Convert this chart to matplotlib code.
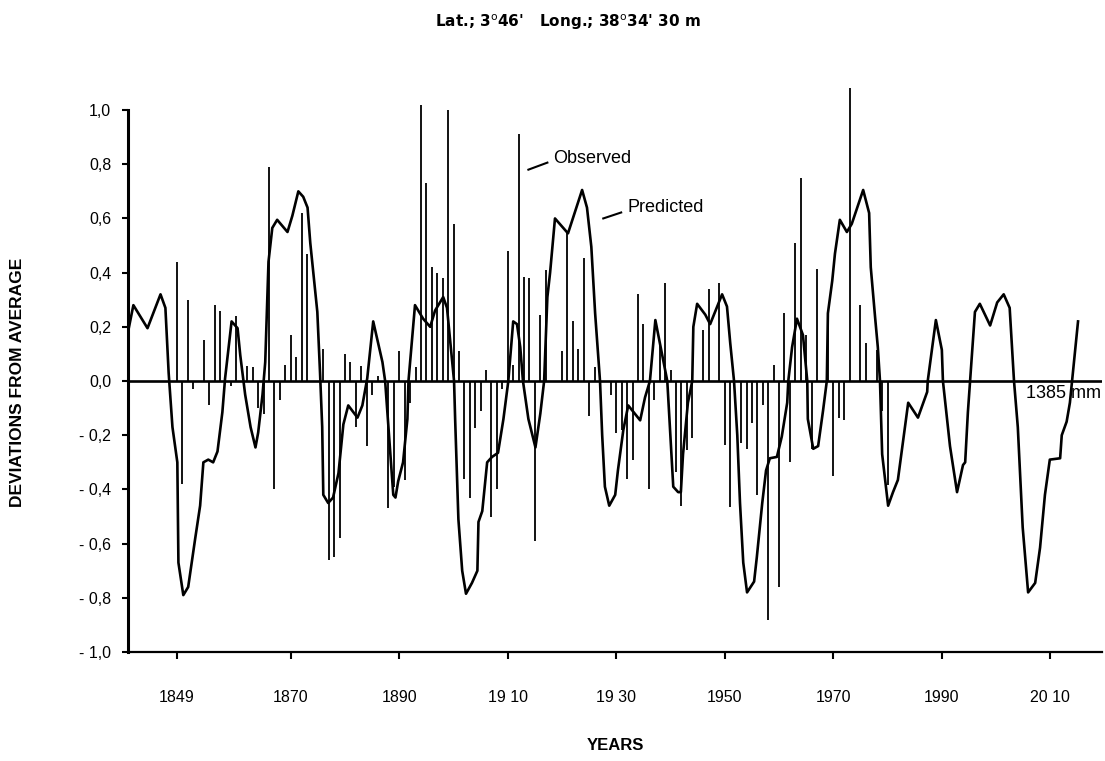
import numpy as np
import matplotlib
matplotlib.use("Agg")
import matplotlib.pyplot as plt

plt.rcParams['font.family'] = ['Liberation Sans Narrow', 'Liberation Sans', 'DejaVu Sans']

# predicted curve (year, deviation)
pred_year = [1840.1, 1841.0, 1843.6, 1846.0, 1846.9, 1847.5, 1848.2, 1849.1, 1849.3, 1850.2,
             1851.1, 1852.4, 1853.3, 1853.9, 1854.8, 1855.7, 1856.5, 1857.4, 1857.9, 1859.1,
             1860.2, 1860.7, 1861.6, 1862.6, 1863.5, 1864.0, 1864.8, 1865.3, 1865.9, 1866.6,
             1867.5, 1869.4, 1870.3, 1871.4, 1872.3, 1873.1, 1873.6, 1874.9, 1875.4, 1875.8,
             1876.0, 1876.9, 1877.8, 1878.8, 1879.7, 1880.6, 1882.3, 1883.2, 1884.1, 1885.2,
             1886.9, 1887.4, 1888.9, 1889.3, 1889.8, 1890.7, 1891.5, 1891.7, 1892.9, 1894.4,
             1895.7, 1896.6, 1898.1, 1898.8, 1900.1, 1900.3, 1900.9, 1901.6, 1902.3, 1903.4,
             1904.4, 1904.6, 1905.3, 1906.2, 1907.1, 1908.2, 1909.2, 1910.1, 1911.0, 1911.7,
             1912.3, 1912.8, 1913.8, 1915.1, 1916.0, 1916.7, 1917.3, 1917.8, 1918.7, 1921.1,
             1923.7, 1924.6, 1925.4, 1926.1, 1927.0, 1927.4, 1927.9, 1928.7, 1929.8, 1930.3,
             1931.3, 1932.2, 1934.4, 1935.3, 1936.2, 1937.2, 1939.4, 1940.5, 1941.4, 1941.9,
             1942.3, 1943.2, 1944.0, 1944.2, 1944.9, 1946.4, 1947.3, 1947.8, 1949.5, 1950.4,
             1951.0, 1951.7, 1952.3, 1952.8, 1953.4, 1954.1, 1955.4, 1955.9, 1956.9, 1957.6,
             1958.3, 1959.6, 1960.5, 1961.5, 1961.7, 1962.4, 1963.3, 1964.4, 1965.2, 1965.3,
             1966.3, 1967.2, 1968.1, 1968.8, 1969.0, 1969.8, 1970.3, 1971.2, 1972.5, 1973.4,
             1975.5, 1976.6, 1976.9, 1977.7, 1978.2, 1978.6, 1979.0, 1980.1, 1981.0, 1981.9,
             1982.8, 1983.8, 1985.6, 1987.3, 1987.4, 1988.9, 1990.0, 1990.2, 1991.5, 1992.8,
             1993.9, 1994.3, 1994.8, 1995.2, 1996.1, 1997.0, 1998.9, 2000.2, 2001.4, 2002.5,
             2003.3, 2004.0, 2004.9, 2005.9, 2007.2, 2008.1, 2009.0, 2009.9, 2011.8, 2012.1,
             2013.0, 2013.6, 2014.0, 2015.1]
pred_val = [0.19, 0.28, 0.195, 0.32, 0.27, 0.03, -0.17, -0.30, -0.67, -0.79,
            -0.76, -0.58, -0.46, -0.30, -0.29, -0.30, -0.26, -0.115, 0.01, 0.22,
            0.195, 0.095, -0.05, -0.17, -0.245, -0.19, -0.05, 0.07, 0.44, 0.565,
            0.595, 0.55, 0.61, 0.70, 0.68, 0.64, 0.51, 0.255, 0.03, -0.17,
            -0.42, -0.45, -0.43, -0.34, -0.16, -0.09, -0.135, -0.09, 0.01, 0.22,
            0.07, 0.0, -0.42, -0.43, -0.37, -0.30, -0.14, 0.0, 0.28, 0.23,
            0.20, 0.26, 0.31, 0.27, 0.0, -0.14, -0.51, -0.70, -0.785, -0.745,
            -0.70, -0.52, -0.48, -0.30, -0.28, -0.265, -0.14, 0.0, 0.22, 0.21,
            0.125, 0.0, -0.14, -0.245, -0.12, 0.0, 0.31, 0.40, 0.60, 0.545,
            0.705, 0.64, 0.495, 0.25, 0.0, -0.2, -0.39, -0.46, -0.42, -0.33,
            -0.18, -0.09, -0.145, -0.06, 0.0, 0.225, 0.0, -0.39, -0.41, -0.41,
            -0.27, -0.08, 0.0, 0.20, 0.285, 0.245, 0.21, 0.235, 0.32, 0.275,
            0.14, 0.0, -0.2, -0.45, -0.67, -0.78, -0.74, -0.65, -0.45, -0.33,
            -0.285, -0.28, -0.205, -0.08, 0.0, 0.125, 0.23, 0.17, 0.0, -0.14,
            -0.25, -0.24, -0.11, 0.0, 0.25, 0.37, 0.47, 0.595, 0.55, 0.58,
            0.705, 0.62, 0.42, 0.235, 0.125, 0.0, -0.27, -0.46, -0.41, -0.365,
            -0.23, -0.08, -0.135, -0.04, 0.0, 0.225, 0.115, 0.0, -0.24, -0.41,
            -0.31, -0.30, -0.115, 0.0, 0.255, 0.285, 0.205, 0.29, 0.32, 0.27,
            0.0, -0.17, -0.54, -0.78, -0.745, -0.615, -0.42, -0.29, -0.285, -0.20,
            -0.15, -0.08, 0.0, 0.22]

# observed yearly deviations
obs_year = list(range(1849, 1981))
obs_val = [0.44, -0.38, 0.30, -0.03, 0.0, 0.15, -0.09, 0.28, 0.26, 0.0,
           -0.02, 0.24, 0.0, 0.055, 0.05, -0.10, -0.12, 0.79, -0.40, -0.07,
           0.06, 0.17, 0.09, 0.62, 0.47, 0.0, 0.0, 0.12, -0.66, -0.65,
           -0.58, 0.10, 0.07, -0.17, 0.055, -0.24, -0.05, 0.02, 0.0, -0.47,
           -0.39, 0.11, -0.365, -0.08, 0.05, 1.02, 0.73, 0.42, 0.40, 0.38,
           1.00, 0.58, 0.11, -0.36, -0.43, -0.175, -0.11, 0.04, -0.50, -0.40,
           -0.03, 0.48, 0.06, 0.91, 0.385, 0.38, -0.59, 0.245, 0.41, 0.0,
           0.0, 0.11, 0.55, 0.22, 0.12, 0.455, -0.13, 0.05, 0.0, 0.0,
           -0.05, -0.19, -0.18, -0.36, -0.29, 0.32, 0.21, -0.40, -0.07, 0.14,
           0.36, 0.04, -0.335, -0.46, -0.255, -0.21, 0.0, 0.19, 0.34, 0.0,
           0.36, -0.235, -0.465, 0.0, -0.23, -0.25, -0.155, -0.42, -0.09, -0.88,
           0.06, -0.76, 0.25, -0.30, 0.51, 0.75, 0.17, -0.25, 0.415, 0.0,
           0.25, -0.35, -0.135, -0.145, 1.08, 0.0, 0.28, 0.14, 0.0, 0.115,
           -0.11, -0.385]

xticks = [1849, 1870, 1890, 1910, 1930, 1950, 1970, 1990, 2010]
xtick_labels = ['1849', '1870', '1890', '19 10', '19 30', '1950', '1970', '1990', '20 10']
yticks = [1.0, 0.8, 0.6, 0.4, 0.2, 0.0, -0.2, -0.4, -0.6, -0.8, -1.0]
ytick_labels = ['1,0', '0,8', '0,6', '0,4', '0,2', '0,0',
                '- 0,2', '- 0,4', '- 0,6', '- 0,8', '- 1,0']

fig = plt.figure(figsize=(11.05, 7.61), dpi=100)
ax = fig.add_axes([0.1158, 0.1432, 0.8814, 0.7478])

# observed bars
ax.vlines(obs_year, 0, obs_val, color='black', linewidth=1.3)
# predicted curve
ax.plot(pred_year, pred_val, color='black', linewidth=1.9, solid_joinstyle='round')
ax.axhline(0, color='black', linewidth=1.9)

ax.set_xlim(1840, 2019.5)
ax.set_ylim(-1.0, 1.1)

for s in ['top', 'right']:
    ax.spines[s].set_visible(False)
ax.spines['left'].set_bounds(-1.0, 1.0)
ax.spines['left'].set_linewidth(2.2)
ax.spines['bottom'].set_linewidth(1.6)

ax.set_yticks(yticks)
ax.set_yticklabels(ytick_labels)
ax.set_xticks(xticks)
ax.set_xticklabels(xtick_labels)
ax.tick_params(axis='y', direction='out', length=4, width=1.5, pad=8, labelsize=11.5)
ax.tick_params(axis='x', direction='out', length=5, width=1.5, pad=22, labelsize=11.5)

# labels on the curves
ax.text(1918.4, 0.82, 'Observed', fontsize=13, family='Liberation Sans', va='center', ha='left')
ax.plot([1913.8, 1917.3], [0.78, 0.806], color='black', linewidth=1.5)
ax.text(1932.0, 0.64, 'Predicted', fontsize=13, family='Liberation Sans', va='center', ha='left')
ax.plot([1927.6, 1930.9], [0.60, 0.622], color='black', linewidth=1.5)
ax.text(2019.3, -0.045, '1385 mm', fontsize=13, family='Liberation Sans', va='center', ha='right')

fig.text(0.514, 0.971, "Lat.; 3$^{\\rm o}$46'   Long.; 38$^{\\rm o}$34' 30 m",
         fontsize=11, fontweight='bold', family='Liberation Sans Narrow', ha='center', va='center')
fig.text(0.016, 0.498, 'DEVIATIONS FROM AVERAGE', rotation=90, fontsize=12.5,
         fontweight='bold', family='Liberation Sans', ha='center', va='center')
fig.text(0.557, 0.02, 'YEARS', fontsize=12, fontweight='bold',
         family='Liberation Sans', ha='center', va='center')

fig.savefig('out.png', dpi=100)
